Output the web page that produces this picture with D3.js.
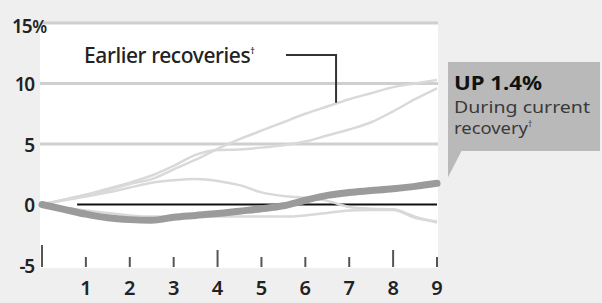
<!DOCTYPE html>
<html><head><meta charset="utf-8">
<script src="https://cdn.jsdelivr.net/npm/d3@7"></script>
<style>
html,body{margin:0;padding:0;background:#efefef;}
svg{display:block;}
text{font-family:"Noto Sans","Open Sans",sans-serif;}
</style></head>
<body>
<script>
// ---- data ----
const xTicks = [0,1,2,3,4,5,6,7,8,9];
const xTickLabels = ["","1","2","3","4","5","6","7","8","9"];
const majorTicks = [0,4,8];
const yTicks = [15,10,5,0,-5];
const yTickLabels = ["15","10","5","0","-5"];
const gridValues = [15,10,5];

const currentX = [0,0.5,1,1.5,2,2.5,3,3.5,4,4.5,5,5.5,6,6.5,7,7.5,8,8.5,9];
const currentY = [0,-0.4,-0.8,-1.1,-1.25,-1.3,-1.05,-0.9,-0.75,-0.55,-0.35,-0.1,0.35,0.75,1.0,1.15,1.3,1.5,1.75];

const earlierX = [0,0.5,1,1.5,2,2.5,3,3.5,4,4.5,5,5.5,6,6.5,7,7.5,8,8.5,9];
const earlierA = [0,0.4,0.8,1.2,1.7,2.1,2.9,3.7,4.6,5.4,6.1,6.8,7.5,8.1,8.7,9.2,9.7,10.0,10.3];
const earlierB = [0,0.4,0.8,1.3,1.8,2.4,3.2,4.1,4.5,4.55,4.7,4.9,5.2,5.7,6.2,6.8,7.7,8.7,9.6];
const earlierC = [0,0.35,0.65,1.0,1.4,1.8,2.0,2.1,1.95,1.6,1.0,0.7,0.55,0.3,-0.2,-0.35,-0.4,-1.0,-1.5];
const earlierD = [0,-0.25,-0.5,-0.7,-0.9,-1.0,-1.0,-1.0,-1.0,-1.0,-1.0,-1.0,-0.9,-0.7,-0.5,-0.45,-0.45,-1.1,-1.4];
const earlierSeries = [earlierA, earlierB, earlierC, earlierD];

const labelEarlier = "Earlier recoveries";
const labelHead = "UP 1.4%";
const labelSub = ["During current", "recovery"];

// ---- chart ----
const W = 602, H = 303;
const svg = d3.select("body").append("svg").attr("width", W).attr("height", H);
svg.append("rect").attr("width", W).attr("height", H).attr("fill", "#efefef");

const x = d3.scaleLinear().domain([0, 9]).range([42, 437]);
const y = d3.scaleLinear().domain([-5, 15]).range([265, 23]);

// white plot panel
svg.append("rect")
  .attr("x", x(0) - 2).attr("y", y(15) - 1)
  .attr("width", x(9) - x(0) + 3).attr("height", 268 - (y(15) - 1))
  .attr("fill", "#ffffff");

// gridlines
svg.selectAll("line.grid").data(gridValues).join("line")
  .attr("class", "grid")
  .attr("x1", x(0) - 2).attr("x2", x(9) + 1)
  .attr("y1", d => y(d)).attr("y2", d => y(d))
  .attr("stroke", "#cfcfcf").attr("stroke-width", 3);

// zero line
svg.append("line")
  .attr("x1", x(0.8)).attr("x2", x(9))
  .attr("y1", y(0)).attr("y2", y(0))
  .attr("stroke", "#111").attr("stroke-width", 2);

// y labels
const yl = svg.append("g").attr("font-size", 19).attr("font-weight", 600).attr("fill", "#222");
yTicks.forEach((v, i) => {
  const t = yl.append("text").attr("x", i === 0 ? 12 : 34).attr("y", y(v) + (i === 0 ? 3 : 1)).attr("dy", "0.36em")
    .attr("text-anchor", i === 0 ? "start" : "end").attr("letter-spacing", -1.2);
  t.append("tspan").text(yTickLabels[i]);
  if (i === 0) t.append("tspan").attr("font-size", 17).attr("dx", 1).text("%");
});

// x ticks
svg.selectAll("line.xt").data(xTicks).join("line")
  .attr("class", "xt")
  .attr("x1", d => x(d)).attr("x2", d => x(d))
  .attr("y1", d => d === 0 ? 245 : (majorTicks.includes(d) ? 250 : 257))
  .attr("y2", 267)
  .attr("stroke", "#555").attr("stroke-width", 2);

svg.selectAll("text.xl").data(xTicks).join("text")
  .attr("class", "xl")
  .attr("x", d => x(d)).attr("y", 288).attr("dy", "0.36em")
  .attr("text-anchor", "middle").attr("font-size", 20).attr("font-weight", 600)
  .attr("fill", "#222").text((d, i) => xTickLabels[i]);

// earlier recoveries
const lineGen = d3.line().x(d => x(d[0])).y(d => y(d[1])).curve(d3.curveMonotoneX);
svg.selectAll("path.earlier").data(earlierSeries).join("path")
  .attr("class", "earlier")
  .attr("d", s => lineGen(earlierX.map((xv, i) => [xv, s[i]])))
  .attr("fill", "none").attr("stroke", "#d9d9d9").attr("stroke-width", 2.5)
  .attr("stroke-linejoin", "round");

// current recovery
svg.append("path")
  .attr("d", lineGen(currentX.map((xv, i) => [xv, currentY[i]])))
  .attr("fill", "none").attr("stroke", "#9b9b9b").attr("stroke-width", 7)
  .attr("stroke-linecap", "round").attr("stroke-linejoin", "round");

// earlier label + leader
const el = svg.append("text").attr("x", 84).attr("y", 55).attr("dy", "0.36em")
  .attr("font-size", 21).attr("font-weight", 500).attr("fill", "#222")
  .attr("letter-spacing", -0.4);
el.append("tspan").text(labelEarlier);
el.append("tspan").attr("font-size", 9).attr("dy", "-0.9em").text("†");
const leaderX = x(6.7);
svg.append("path")
  .attr("d", d3.line()([[286, 55], [leaderX, 55], [leaderX, y(8.4)]]))
  .attr("fill", "none").attr("stroke", "#333").attr("stroke-width", 2);

// annotation box
const bx = 448, by = 62, bw = 152, bh = 89;
svg.append("rect").attr("x", bx).attr("y", by).attr("width", bw).attr("height", bh)
  .attr("fill", "#b9b9b9");
svg.append("path")
  .attr("d", d3.line()([[bx, by + bh - 1], [bx + 14, by + bh - 1], [bx, y(currentY[currentY.length - 1]) - 6]]) + "Z")
  .attr("fill", "#b9b9b9");
svg.append("text").attr("x", 454).attr("y", 83).attr("dy", "0.36em")
  .attr("font-size", 20).attr("font-weight", 700).attr("fill", "#111")
  .attr("textLength", 88).attr("lengthAdjust", "spacingAndGlyphs").text(labelHead);
svg.append("text").attr("x", 454).attr("y", 107).attr("dy", "0.36em")
  .attr("font-size", 16.5).attr("fill", "#3a3a3a")
  .attr("textLength", 136).attr("lengthAdjust", "spacingAndGlyphs").text(labelSub[0]);
const rs = svg.append("text").attr("x", 454).attr("y", 128).attr("dy", "0.36em")
  .attr("font-size", 16.5).attr("fill", "#3a3a3a");
rs.append("tspan").attr("textLength", 74).attr("lengthAdjust", "spacingAndGlyphs").text(labelSub[1]);
rs.append("tspan").attr("font-size", 8).attr("dy", "-0.9em").text("†");
</script>
</body></html>
